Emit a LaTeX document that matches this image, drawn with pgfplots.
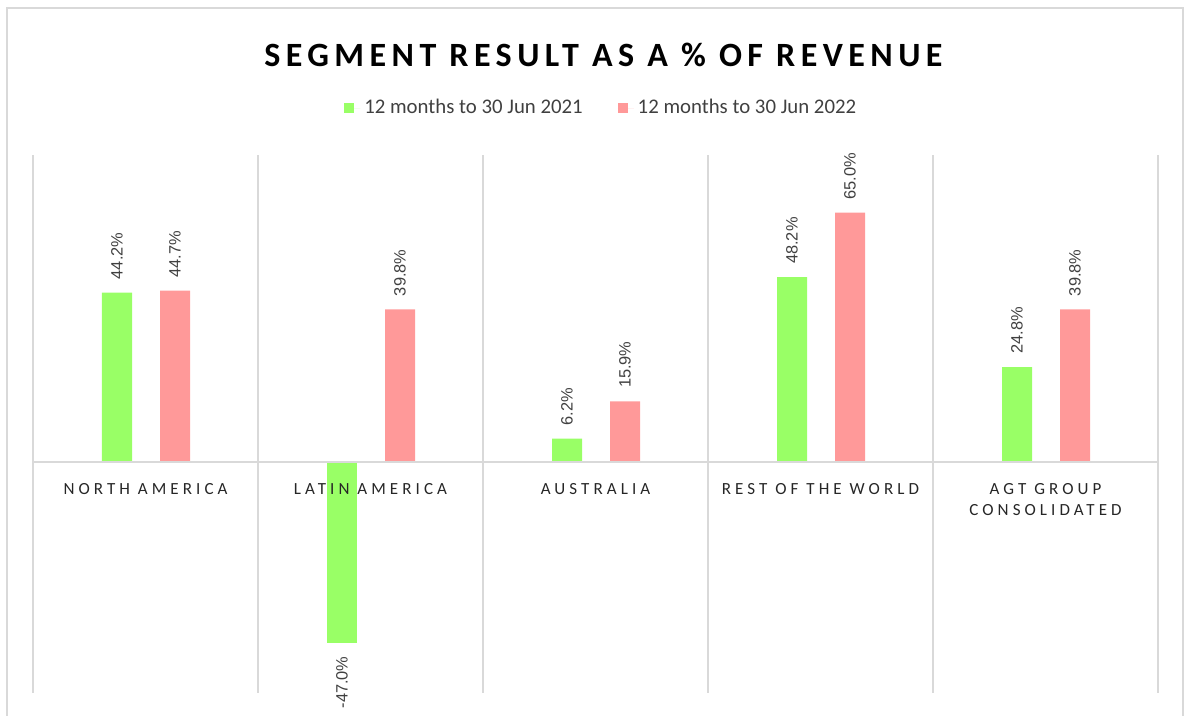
\documentclass[border=0pt]{standalone}
\usepackage{pgfplots}
\pgfplotsset{compat=1.18}
\usepackage{fontspec}
\setmainfont{Carlito}
\newfontfamily\arialf{Liberation Sans}
\definecolor{barGreen}{HTML}{99FF66}
\definecolor{barPink}{HTML}{FF9999}
\definecolor{gridgray}{HTML}{D9D9D9}
\definecolor{labgray}{HTML}{404040}
\definecolor{tickgray}{HTML}{262626}
\begin{document}
\begin{tikzpicture}
\useasboundingbox (0,0) rectangle (592pt,358pt);
\draw[gridgray, line width=1pt] (3.5pt,0pt) -- (3.5pt,354pt) -- (591.5pt,354pt) -- (591.5pt,0pt);
\begin{axis}[
  axis on top=true,
  at={(16.5pt,11.5pt)}, anchor=south west,
  scale only axis, width=562.5pt, height=269pt,
  xmin=-0.5, xmax=4.5, ymin=-60, ymax=80,
  axis line style={draw=none},
  tick style={draw=none},
  major tick length=0pt, minor tick length=0pt,
  ytick=\empty,
  extra y ticks={0}, extra y tick labels={},
  extra y tick style={grid=major, major grid style={draw=gridgray, line width=1pt}},
  xtick={0,1,2,3,4},
  xticklabels={{NORTH AMERICA},{LATIN AMERICA},{AUSTRALIA},{REST OF THE WORLD},{AGT GROUP\\CONSOLIDATED}},
  xticklabel style={font=\fontsize{8.5}{10.5}\selectfont\addfontfeatures{LetterSpace=24}, text=tickgray, align=center, anchor=north, yshift=108.5pt},
  minor xtick={-0.5,0.5,1.5,2.5,3.5,4.5},
  xminorgrids=true,
  minor grid style={draw=gridgray, line width=1pt},
  /pgf/number format/assume math mode=true,
  title={SEGMENT RESULT AS A \% OF REVENUE},
  title style={at={(0.507,1.163)}, anchor=center, font=\fontsize{17}{20}\selectfont\bfseries\addfontfeatures{LetterSpace=16}, text=black},
  legend style={at={(0.506,1.087)}, anchor=center, draw=none, fill=none, font=\fontsize{10.4}{12}\selectfont, text=labgray, legend columns=2, /tikz/every even column/.append style={column sep=15.5pt}, inner sep=0pt},
  legend image code/.code={\fill[#1] (0pt,-2.5pt) rectangle (5pt,2.5pt); \path (0pt,0pt) -- (8pt,0pt);},
  legend cell align=left,
  clip=false,
]
\addplot[ybar, bar width=15pt, bar shift=-14.25pt, fill=barGreen, draw=none,
  nodes near coords={\pgfmathprintnumber[fixed,fixed zerofill,precision=1]{\pgfplotspointmeta}\%},
  every node near coord/.append style={xshift=-14.25pt, rotate=90, anchor=west, font=\arialf\fontsize{8.2}{9}\selectfont, text=labgray, inner xsep=6.5pt, inner ysep=0pt}]
  coordinates {(0,44.2) (2,6.2) (3,48.2) (4,24.8)};
\addlegendentry{12 months to 30 Jun 2021}
\addplot[ybar, bar width=15pt, bar shift=14.75pt, fill=barPink, draw=none,
  nodes near coords={\pgfmathprintnumber[fixed,fixed zerofill,precision=1]{\pgfplotspointmeta}\%},
  every node near coord/.append style={xshift=14.75pt, rotate=90, anchor=west, font=\arialf\fontsize{8.2}{9}\selectfont, text=labgray, inner xsep=6.5pt, inner ysep=0pt}]
  coordinates {(0,44.7) (1,39.8) (2,15.9) (3,65.0) (4,39.8)};
\addlegendentry{12 months to 30 Jun 2022}
\addplot[ybar, bar width=15pt, bar shift=-14.25pt, fill=barGreen, draw=none, forget plot,
  nodes near coords={\pgfmathprintnumber[fixed,fixed zerofill,precision=1]{\pgfplotspointmeta}\%},
  every node near coord/.append style={xshift=-14.25pt, rotate=90, anchor=east, font=\arialf\fontsize{8.2}{9}\selectfont, text=labgray, inner xsep=6.5pt, inner ysep=0pt}]
  coordinates {(1,-47.0)};
\end{axis}
\end{tikzpicture}
\end{document}
